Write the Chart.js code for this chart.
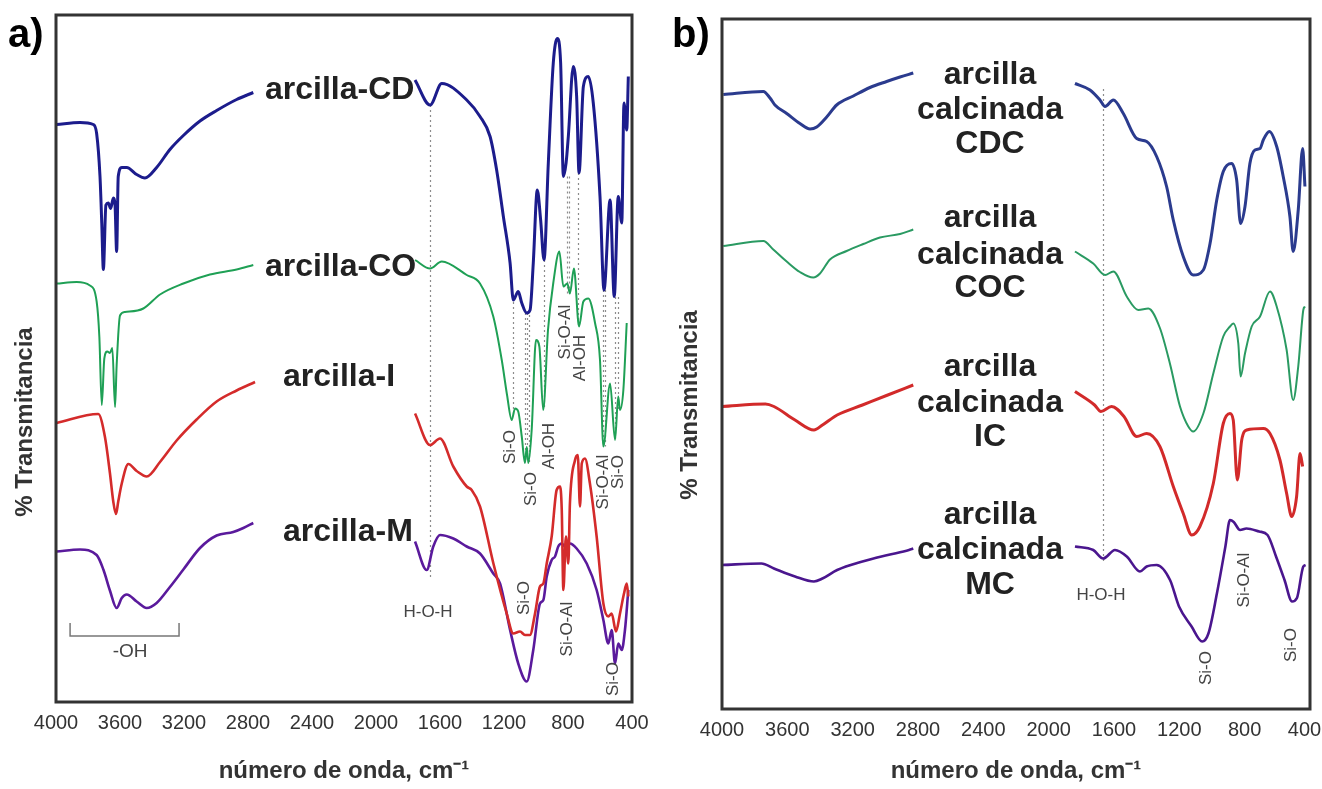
<!DOCTYPE html>
<html>
<head>
<meta charset="utf-8">
<script src="https://cdn.jsdelivr.net/npm/chart.js@4.4.0/dist/chart.umd.min.js"></script>
<style>
html,body{margin:0;padding:0;background:#fff;overflow:hidden;}
#wrap{position:relative;width:1322px;height:789px;overflow:hidden;}
#ca{position:absolute;left:0;top:0;}
#cb{position:absolute;left:660px;top:0;}
</style>
</head>
<body>
<div id="wrap">
<canvas id="ca" width="660" height="789"></canvas>
<canvas id="cb" width="690" height="789"></canvas>
</div>
<script>
// ---------- tick labels ----------
const xTicks = [4000, 3600, 3200, 2800, 2400, 2000, 1600, 1200, 800, 400];

// ---------- panel a : arcilla-CD ----------
const cdWaveL = [3996,3850,3767,3746,3725,3714,3704,3688,3673,3658,3642,3631,3621,3611,3589,3558,3496,3444,3371,3288,3204,3100,2996,2871,2767];
const cdTransL = [115.5,115.9,115.5,113.7,105.1,95.8,86.5,99.4,99.8,98.7,100.8,99.4,90.1,105.1,106.9,106.9,105.5,104.8,106.9,110.5,113.3,116.2,118.3,120.5,121.9];
const cdWaveR = [1756,1662,1589,1433,1350,1287,1246,1204,1162,1142,1111,1089,1058,1037,1017,992,971,950,923,892,867,846,829,812,798,767,746,731,704,673,642,600,575,537,511,486,464,450,433,423];
const cdTransR = [124.4,119.4,123.7,120.4,117.1,113.1,106.4,97.1,87.8,80.4,82.1,79.8,77.8,78.4,87.8,102.4,96.4,88.4,107.8,127.8,132.7,127.8,105.1,107.8,113.1,127.1,121.1,105.8,123.1,125.1,119.8,101.1,82.4,100.4,81.1,101.1,95.8,119.8,114.4,125.1];

// ---------- panel a : arcilla-CO ----------
const coWaveL = [3996,3871,3788,3746,3729,3714,3698,3679,3663,3648,3631,3621,3600,3569,3454,3350,3204,3038,2871,2767];
const coTransL = [83.7,84.0,83.3,80.1,73.0,59.4,68.7,70.1,69.8,70.8,59.0,67.3,77.3,78.0,78.7,81.5,83.7,85.5,86.5,87.4];
const coWaveR = [1756,1662,1589,1433,1350,1267,1214,1181,1152,1131,1111,1089,1069,1058,1048,1027,1000,979,955,925,892,854,829,804,788,763,731,704,673,631,600,579,537,506,486,475,454,433];
const coTransR = [88.4,86.7,88.1,85.4,83.7,77.1,68.4,61.4,56.4,58.7,58.1,53.1,47.8,51.0,47.8,54.4,72.4,71.1,58.4,74.4,83.8,90.1,83.1,83.7,81.7,86.7,75.1,80.1,80.7,75.8,68.4,51.1,63.7,52.4,61.1,58.4,62.4,75.8];

// ---------- panel a : arcilla-I ----------
const iWaveL = [3996,3736,3694,3663,3642,3625,3611,3589,3548,3496,3433,3350,3246,3121,2996,2871,2756];
const iTransL = [55.8,57.6,53.0,45.8,40.1,37.6,40.1,43.7,47.6,46.2,45.1,48.0,52.3,56.5,60.1,62.3,64.0];
const iWaveR = [1756,1662,1600,1517,1433,1402,1350,1267,1183,1142,1100,1069,1038,1006,975,954,933,902,871,850,839,829,813,798,788,756,739,725,714,694,663,621,579,548,527,500,475,450,433,423];
const iTransR = [57.7,51.4,52.7,47.1,43.1,42.4,39.1,27.8,17.7,13.7,14.1,13.4,13.4,17.7,23.1,23.7,27.7,33.1,42.4,43.1,38.4,22.4,33.1,27.7,39.7,48.4,49.4,39.1,47.7,48.7,43.7,33.1,19.7,17.1,17.7,14.1,17.7,21.7,23.7,21.1];

// ---------- panel a : arcilla-M ----------
const mWaveL = [3996,3850,3746,3704,3663,3621,3589,3558,3496,3433,3371,3288,3204,3100,2996,2892,2829,2767];
const mTransL = [30.1,30.5,29.4,26.5,22.3,18.8,20.8,21.5,20.1,18.8,19.8,23.0,26.5,30.8,33.3,34.0,34.8,35.8];
const mWaveR = [1756,1683,1642,1600,1517,1433,1350,1267,1225,1162,1111,1058,1017,975,954,933,902,881,861,839,819,788,746,683,621,579,548,527,506,486,464,444,423];
const mTransR = [32.1,26.4,31.1,33.4,32.7,31.1,29.7,25.7,23.7,14.4,7.7,4.1,10.4,19.7,20.4,25.1,28.4,29.1,31.1,31.7,31.1,31.7,30.7,27.7,22.4,16.4,11.7,14.4,7.7,11.7,10.4,14.4,22.4];

// ---------- panel b : arcilla calcinada CDC ----------
const cdcWaveL = [3992,3747,3706,3676,3604,3523,3461,3420,3359,3298,3196,3094,2992,2910,2829];
const cdcTransL = [122.9,123.5,122.2,120.8,119.1,117.1,116.0,116.4,118.4,120.8,122.6,124.3,125.5,126.4,127.2];
const cdcWaveR = [1839,1747,1686,1655,1604,1543,1461,1400,1339,1278,1237,1176,1115,1053,1012,971,931,880,849,825,798,768,737,706,686,649,604,564,523,503,472,445,431];
const cdcTransR = [125.1,123.8,121.8,120.5,121.8,119.1,114.1,113.5,110.5,104.5,97.8,90.5,86.8,87.8,93.1,101.8,107.5,109.1,105.8,97.1,100.5,109.1,111.8,112.1,113.8,115.5,112.5,106.5,98.5,91.5,99.8,112.1,104.5];

// ---------- panel b : arcilla calcinada COC ----------
const cocWaveL = [3992,3747,3686,3604,3523,3441,3400,3339,3237,3135,3033,2910,2829];
const cocTransL = [92.6,93.6,91.9,89.5,87.4,86.3,87.1,89.9,91.6,93.0,94.3,95.0,95.9];
const cocWaveR = [1839,1727,1655,1604,1522,1451,1390,1319,1257,1196,1145,1115,1053,992,931,890,870,839,825,798,757,706,645,604,543,503,472,441,431];
const cocTransR = [91.5,89.1,86.8,87.5,82.5,79.8,80.1,76.2,69.0,60.5,56.5,55.5,59.1,67.1,74.5,76.5,77.1,73.1,66.5,71.1,76.5,78.5,83.5,80.5,71.8,61.8,68.5,79.8,80.5];

// ---------- panel b : arcilla calcinada IC ----------
const icWaveL = [3998,3734,3682,3553,3437,3385,3295,3140,2985,2829];
const icTransL = [60.5,61.0,60.5,57.8,55.8,56.8,58.8,60.8,62.8,64.8];
const icWaveR = [1839,1719,1680,1615,1539,1461,1400,1319,1237,1176,1124,1074,992,931,890,870,845,818,788,686,645,584,543,512,482,461,445];
const icTransR = [63.5,60.8,59.5,60.5,58.5,54.5,55.1,52.5,44.5,39.1,34.8,36.5,45.1,57.1,59.1,57.8,45.8,53.8,55.8,56.1,55.1,49.8,43.1,38.5,42.5,51.1,48.5];

// ---------- panel b : arcilla calcinada MC ----------
const mcWaveL = [3998,3759,3682,3553,3437,3385,3295,3140,2985,2855,2829];
const mcTransL = [28.8,29.1,28.1,26.5,25.5,26.1,27.8,29.5,30.8,31.8,32.1];
const mcWaveR = [1839,1727,1666,1594,1522,1441,1400,1339,1257,1202,1125,1060,1022,970,918,890,867,828,789,711,660,608,556,510,480,441,427];
const mcTransR = [32.5,31.8,30.1,31.8,30.5,27.5,28.5,28.8,25.8,20.5,16.5,13.5,15.1,23.1,32.5,37.8,37.4,35.8,36.1,35.5,34.8,30.5,25.8,21.5,22.2,28.5,28.8];

// ---------- labels ----------
const seriesNamesA = ['arcilla-CD', 'arcilla-CO', 'arcilla-I', 'arcilla-M'];
const seriesNamesB = [['arcilla','calcinada','CDC'], ['arcilla','calcinada','COC'], ['arcilla','calcinada','IC'], ['arcilla','calcinada','MC']];

const FONT = "'Liberation Sans', Arial, Helvetica, sans-serif";

function joinSeg(wL, tL, wR, tR) {
  const pts = wL.map((w, i) => ({x: w, y: tL[i]}));
  pts.push({x: 2300, y: null});
  wR.forEach((w, i) => pts.push({x: w, y: tR[i]}));
  return pts;
}

function ds(data, color, width) {
  return {data, borderColor: color, borderWidth: width, pointRadius: 0, fill: false,
          spanGaps: false, cubicInterpolationMode: 'monotone'};
}

function makeDecor(cfg) {
  return {
    id: 'decor',
    beforeDatasetsDraw(chart) {
      const {ctx, scales: {x, y}} = chart;
      ctx.save();
      ctx.strokeStyle = '#8c8c8c';
      ctx.lineWidth = 1.2;
      ctx.setLineDash([2, 3]);
      cfg.dotted.forEach(d => {
        const px = Math.round(x.getPixelForValue(d[0])) + 0.5;
        ctx.beginPath();
        ctx.moveTo(px, y.getPixelForValue(d[1]));
        ctx.lineTo(px, y.getPixelForValue(d[2]));
        ctx.stroke();
      });
      ctx.restore();
    },
    afterDatasetsDraw(chart) {
      const {ctx, chartArea: a, scales: {x, y}} = chart;
      ctx.save();
      // frame
      ctx.strokeStyle = '#333';
      ctx.lineWidth = 3;
      ctx.strokeRect(a.left, a.top, a.right - a.left, a.bottom - a.top);
      // bracket
      if (cfg.bracket) {
        const b = cfg.bracket;
        const x1 = x.getPixelForValue(b[0]), x2 = x.getPixelForValue(b[1]);
        const yt = y.getPixelForValue(b[2]), yb = y.getPixelForValue(b[3]);
        ctx.strokeStyle = '#777';
        ctx.lineWidth = 1.5;
        ctx.beginPath();
        ctx.moveTo(x1, yt); ctx.lineTo(x1, yb); ctx.lineTo(x2, yb); ctx.lineTo(x2, yt);
        ctx.stroke();
      }
      // big series labels
      ctx.fillStyle = '#222';
      ctx.font = 'bold 32px ' + FONT;
      ctx.textBaseline = 'middle';
      cfg.big.forEach(l => {
        ctx.textAlign = l.align;
        ctx.fillText(l.text, x.getPixelForValue(l.v), y.getPixelForValue(l.t));
      });
      // small band labels
      ctx.fillStyle = '#444';
      cfg.small.forEach(l => {
        ctx.font = (l.size || 17) + 'px ' + FONT;
        const px = x.getPixelForValue(l.v), py = y.getPixelForValue(l.t);
        ctx.save();
        ctx.translate(px, py);
        if (l.rot) ctx.rotate(-Math.PI / 2);
        ctx.textAlign = 'center';
        ctx.textBaseline = 'middle';
        ctx.fillText(l.text, 0, 0);
        ctx.restore();
      });
      // panel letter
      ctx.fillStyle = '#000';
      ctx.font = 'bold 40px ' + FONT;
      ctx.textAlign = 'left';
      ctx.textBaseline = 'middle';
      ctx.fillText(cfg.letter[0], cfg.letter[1], cfg.letter[2]);
      // y title
      ctx.save();
      ctx.translate(cfg.ytitle[0], cfg.ytitle[1]);
      ctx.rotate(-Math.PI / 2);
      ctx.fillStyle = '#333';
      ctx.font = 'bold 24px ' + FONT;
      ctx.textAlign = 'center';
      ctx.textBaseline = 'middle';
      ctx.fillText('% Transmitancia', 0, 0);
      ctx.restore();
      ctx.restore();
    }
  };
}

function makeOptions(pad, axisH, yMax, lastPad) {
  return {
    responsive: false,
    animation: false,
    layout: {padding: pad},
    plugins: {legend: {display: false}, tooltip: {enabled: false}},
    scales: {
      x: {
        type: 'linear', reverse: true, min: 400, max: 4000,
        afterBuildTicks: s => { s.ticks = xTicks.map(v => ({value: v})); },
        afterFit: s => { s.height = axisH; },
        ticks: {callback: v => (v === 400 && lastPad) ? '400\u00A0\u00A0' : String(v),
                color: '#333', font: {family: FONT, size: 20},
                padding: 9, maxRotation: 0, autoSkip: false},
        grid: {display: false, drawTicks: false},
        border: {display: false},
        title: {display: true, text: 'número de onda, cm\u207B\u00B9', color: '#333',
                font: {family: FONT, size: 24, weight: 'bold'}, padding: {top: 0, bottom: 3}}
      },
      y: {display: false, min: 0, max: yMax}
    }
  };
}

// ---------- panel a ----------
new Chart(document.getElementById('ca'), {
  type: 'line',
  data: {datasets: [
    ds(joinSeg(cdWaveL, cdTransL, cdWaveR, cdTransR), '#1c1c8c', 3),
    ds(joinSeg(coWaveL, coTransL, coWaveR, coTransR), '#1fa055', 2),
    ds(joinSeg(iWaveL, iTransL, iWaveR, iTransR), '#d42b2b', 2.6),
    ds(joinSeg(mWaveL, mTransL, mWaveR, mTransR), '#5a1a9c', 2.6)
  ]},
  options: makeOptions({left: 56, right: 28, top: 15, bottom: 0}, 87, 137.4, false),
  plugins: [makeDecor({
    dotted: [[1662,119.4,24.8],[1142,80,57],[1069,77.8,47.8],[1054,77.8,47.8],[1042,78.4,47.8],[950,88.4,58.4],
             [804,105.1,81.7],[792,105.1,81.7],[735,105.8,75.1],[579,82.4,51.1],[570,82.4,51.1],[506,81,52.4],[490,81,58]],
    bracket: [3912, 3231, 15.8, 13.2],
    big: [
      {text: seriesNamesA[0], v: 2694, t: 122.4, align: 'left'},
      {text: seriesNamesA[1], v: 2694, t: 87, align: 'left'},
      {text: seriesNamesA[2], v: 2581, t: 65, align: 'left'},
      {text: seriesNamesA[3], v: 2581, t: 34, align: 'left'}
    ],
    small: [
      {text: 'Si-O', v: 1162, t: 51, rot: true},
      {text: 'Si-O', v: 1027, t: 42.6, rot: true},
      {text: 'Al-OH', v: 919, t: 51.2, rot: true},
      {text: 'Si-O-Al', v: 819, t: 74, rot: true},
      {text: 'Al-OH', v: 725, t: 68.8, rot: true},
      {text: 'Si-O-Al', v: 581, t: 44, rot: true},
      {text: 'Si-O', v: 488, t: 46, rot: true},
      {text: 'Si-O', v: 1075, t: 20.8, rot: true},
      {text: 'Si-O-Al', v: 806, t: 14.6, rot: true},
      {text: 'Si-O', v: 519, t: 4.6, rot: true},
      {text: 'H-O-H', v: 1675, t: 18, rot: false},
      {text: '-OH', v: 3537, t: 10, rot: false, size: 19}
    ],
    letter: ['a)', 8, 36],
    ytitle: [25, 422]
  })]
});

// ---------- panel b ----------
new Chart(document.getElementById('cb'), {
  type: 'line',
  data: {datasets: [
    ds(joinSeg(cdcWaveL, cdcTransL, cdcWaveR, cdcTransR), '#2b3b8e', 3),
    ds(joinSeg(cocWaveL, cocTransL, cocWaveR, cocTransR), '#2a9a62', 2),
    ds(joinSeg(icWaveL, icTransL, icWaveR, icTransR), '#d22a2a', 3),
    ds(joinSeg(mcWaveL, mcTransL, mcWaveR, mcTransR), '#4a168e', 2.6)
  ]},
  options: makeOptions({left: 62, right: 40, top: 19, bottom: 0}, 80, 138, true),
  plugins: [makeDecor({
    dotted: [[1667, 124, 29.4]],
    bracket: null,
    big: [
      {text: seriesNamesB[0][0], v: 2359, t: 126.8, align: 'center'},
      {text: seriesNamesB[0][1], v: 2359, t: 119.8, align: 'center'},
      {text: seriesNamesB[0][2], v: 2359, t: 113, align: 'center'},
      {text: seriesNamesB[1][0], v: 2359, t: 98.2, align: 'center'},
      {text: seriesNamesB[1][1], v: 2359, t: 90.8, align: 'center'},
      {text: seriesNamesB[1][2], v: 2359, t: 84.2, align: 'center'},
      {text: seriesNamesB[2][0], v: 2359, t: 68.4, align: 'center'},
      {text: seriesNamesB[2][1], v: 2359, t: 61.2, align: 'center'},
      {text: seriesNamesB[2][2], v: 2359, t: 54.4, align: 'center'},
      {text: seriesNamesB[3][0], v: 2359, t: 38.8, align: 'center'},
      {text: seriesNamesB[3][1], v: 2359, t: 31.8, align: 'center'},
      {text: seriesNamesB[3][2], v: 2359, t: 24.8, align: 'center'}
    ],
    small: [
      {text: 'Si-O', v: 1035, t: 8.2, rot: true},
      {text: 'Si-O-Al', v: 804, t: 25.8, rot: true},
      {text: 'Si-O', v: 513, t: 12.8, rot: true},
      {text: 'H-O-H', v: 1680, t: 22.8, rot: false}
    ],
    letter: ['b)', 12, 36],
    ytitle: [30, 405]
  })]
});
</script>
</body>
</html>
